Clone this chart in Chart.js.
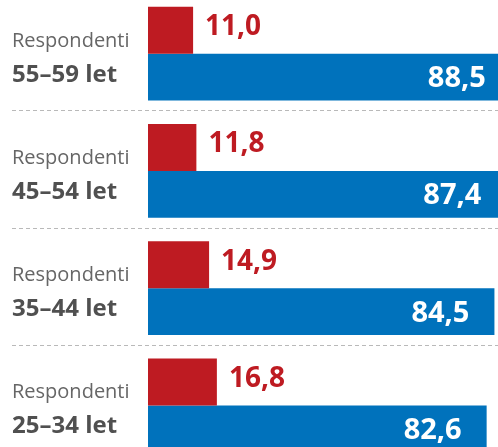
<!DOCTYPE html>
<html>
<head>
<meta charset="utf-8">
<script src="https://cdn.jsdelivr.net/npm/chart.js@4"></script>
<style>
  html, body { margin: 0; padding: 0; background: #fff; overflow: hidden; }
  body { width: 498px; height: 447px; position: relative; }
  #wrap { position: absolute; left: 0; top: -5px; width: 498px; height: 469px; }
</style>
</head>
<body>
<div id="wrap"><canvas id="chart"></canvas></div>
<script>
// age groups, top to bottom
const categories = ['55–59 let', '45–54 let', '35–44 let', '25–34 let'];
const rowPrefix = 'Respondenti';
const redValues = [11.0, 11.8, 14.9, 16.8];
const blueValues = [88.5, 87.4, 84.5, 82.6];

const RED = '#be1b22';
const BLUE = '#0072bc';
const FONT = '"Open Sans", "Noto Sans", sans-serif';

function formatValue(v) {
  return v.toFixed(1).replace('.', ',');
}

// left labels, dashed separators and value labels
const decorations = {
  id: 'decorations',
  afterDatasetsDraw(chart) {
    const ctx = chart.ctx;
    const y = chart.scales.y;
    const x = chart.scales.x;
    const w = chart.width;
    ctx.save();

    // dashed separators between groups
    ctx.strokeStyle = '#b9b9b9';
    ctx.lineWidth = 1;
    ctx.setLineDash([4, 3]);
    for (let i = 0; i < categories.length - 1; i++) {
      const py = Math.round((y.getPixelForValue(i) + y.getPixelForValue(i + 1)) / 2) - 1.5;
      ctx.beginPath();
      ctx.moveTo(12, py);
      ctx.lineTo(w, py);
      ctx.stroke();
    }
    ctx.setLineDash([]);

    // row labels
    ctx.textAlign = 'left';
    ctx.textBaseline = 'alphabetic';
    categories.forEach((cat, i) => {
      const cy = y.getPixelForValue(i);
      ctx.fillStyle = '#666666';
      ctx.font = '20px ' + FONT;
      ctx.fillText(rowPrefix, 12, cy - 7);
      ctx.fillStyle = '#505050';
      ctx.font = 'bold 24px ' + FONT;
      ctx.fillText(cat, 12, cy + 28);
    });

    // red values, right of the bar
    const redMeta = chart.getDatasetMeta(0);
    ctx.fillStyle = RED;
    ctx.font = 'bold 28px ' + FONT;
    ctx.textAlign = 'left';
    redValues.forEach((v, i) => {
      const bar = redMeta.data[i];
      ctx.fillText(formatValue(v), x.getPixelForValue(v) + 12, bar.y + 5);
    });

    // blue values, inside the bar end
    const blueMeta = chart.getDatasetMeta(1);
    ctx.fillStyle = '#ffffff';
    ctx.font = 'bold 29px ' + FONT;
    ctx.textAlign = 'right';
    blueValues.forEach((v, i) => {
      const bar = blueMeta.data[i];
      ctx.fillText(formatValue(v), x.getPixelForValue(v) - 25, bar.y + 10);
    });

    ctx.restore();
  }
};

new Chart(document.getElementById('chart'), {
  type: 'bar',
  data: {
    labels: categories,
    datasets: [
      {
        label: 'red',
        data: redValues,
        backgroundColor: RED,
        borderWidth: 0,
        categoryPercentage: 0.8,
        barPercentage: 1.0,
      },
      {
        label: 'blue',
        data: blueValues,
        backgroundColor: BLUE,
        borderWidth: 0,
        categoryPercentage: 0.8,
        barPercentage: 1.0,
      },
    ],
  },
  options: {
    indexAxis: 'y',
    responsive: true,
    maintainAspectRatio: false,
    animation: false,
    layout: { padding: { left: 148, right: 0, top: 0, bottom: 0 } },
    plugins: {
      legend: { display: false },
      tooltip: { enabled: false },
      title: { display: false },
    },
    scales: {
      x: { display: false, min: 0, max: 85.37 },
      y: { display: false },
    },
  },
  plugins: [decorations],
});
</script>
</body>
</html>
